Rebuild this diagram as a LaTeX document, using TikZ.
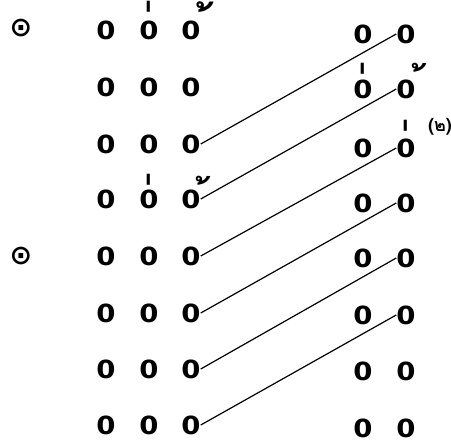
\documentclass[tikz,border=0pt]{standalone}
\usepackage{fontspec}
\usepackage{graphicx}
\setmainfont{DejaVu Sans}
\newfontfamily\thaifont[Script=Thai]{Loma}
\newcommand{\ekmark}{\scalebox{1}[1.8]{่}}
\newcommand{\thomark}{้}
\begin{document}
\begin{tikzpicture}[x=1pt,y=-1pt,
  zero/.style={inner sep=0pt,font=\fontsize{25}{25}\selectfont\bfseries},
  sun/.style={inner sep=0pt,font=\fontsize{27}{27}\selectfont\bfseries},
  ek/.style={inner sep=0pt,anchor=north,font=\fontsize{45}{45}\selectfont\thaifont},
  tho/.style={inner sep=0pt,anchor=north,font=\fontsize{47}{47}\selectfont\thaifont\bfseries},
  note/.style={inner sep=0pt,font=\fontsize{18}{18}\selectfont\thaifont\bfseries},
  link/.style={line width=1.2pt}]
\useasboundingbox (0,0) rectangle (451,444);
% sun symbols
\node[sun] (s1) at (21,28) {⊙};
\node[sun] (s2) at (21,256) {⊙};
% left block
\foreach \r/\y in {1/30,2/87,3/144,4/199,5/256,6/313,7/369,8/425}{
  \node[zero] (L\r a) at (106,\y) {\scalebox{1.1}[1]{0}};
  \node[zero] (L\r b) at (149,\y) {\scalebox{1.1}[1]{0}};
  \node[zero] (L\r c) at (191,\y) {\scalebox{1.1}[1]{0}};
}
% right block
\foreach \r/\y in {1/34,2/89,3/148,4/203,5/258,6/315,7/371,8/428}{
  \node[zero] (R\r a) at (363,\y) {\scalebox{1.1}[1]{0}};
  \node[zero] (R\r b) at (406,\y) {\scalebox{1.1}[1]{0}};
}
% tone marks
\node[ek] (m1) at (154,1) {\ekmark};
\node[tho] (m2) at (212,2) {\thomark};
\node[ek] (m3) at (154,174) {\ekmark};
\node[tho] (m4) at (209,176) {\scalebox{0.85}{\thomark}};
\node[ek] (m5) at (368,63) {\ekmark};
\node[tho] (m6) at (425,63) {\scalebox{0.85}{\thomark}};
\node[ek] (m7) at (411,120) {\ekmark};
\node[note] (n1) at (440,127) {(๒)};
% connectors
\foreach \l/\r in {3/1,4/2,5/3,6/4,7/5,8/6}{
  \draw[link] (L\l c.east) -- (R\r b.west);
}
\end{tikzpicture}
\end{document}
